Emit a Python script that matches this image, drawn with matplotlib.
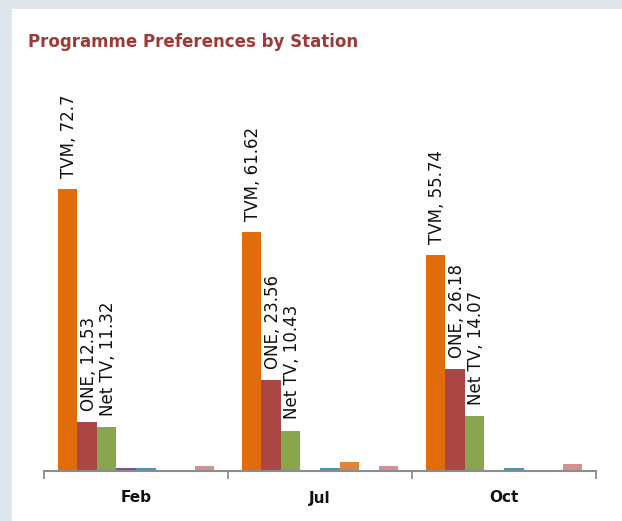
import matplotlib
matplotlib.use("Agg")
import matplotlib.pyplot as plt
from matplotlib.patches import Rectangle
import numpy as np

months = ["Feb", "Jul", "Oct"]
series_names = ["TVM", "ONE", "Net TV", "Series 4", "Series 5", "Series 6", "Series 7", "Series 8"]
tvm = [72.7, 61.62, 55.74]
one = [12.53, 23.56, 26.18]
net_tv = [11.32, 10.43, 14.07]
series4 = [0.7, 0.0, 0.0]
series5 = [0.7, 0.7, 0.8]
series6 = [0.0, 2.2, 0.0]
series7 = [0.0, 0.0, 0.0]
series8 = [1.2, 1.2, 1.8]
labelled = ["TVM", "ONE", "Net TV"]

all_series = [tvm, one, net_tv, series4, series5, series6, series7, series8]
colors = ["#E36C0A", "#AA4643", "#89A54E", "#71588F", "#4198AF", "#DB843D", "#93A9CF", "#D19392"]

W, H = 622, 521
fig = plt.figure(figsize=(W / 100, H / 100), dpi=100)
fig.patch.set_facecolor("#DFE6EB")
fig.patches.append(Rectangle((12 / W, 0), 1 - 12 / W, 1 - 9 / H, transform=fig.transFigure,
                             facecolor="white", edgecolor="none", zorder=-5))

ax = fig.add_axes([44 / W, 50 / H, 552 / W, 411 / H])
ax.set_facecolor("none")
ax.set_zorder(2)

x = np.arange(len(months))
bw = 0.106
n = len(all_series)
for i, (name, vals, c) in enumerate(zip(series_names, all_series, colors)):
    pos = x + (i - (n - 1) / 2) * bw
    ax.bar(pos, vals, width=bw, color=c, edgecolor="none", zorder=2)
    if name in labelled:
        for p, v in zip(pos, vals):
            ax.annotate(f"{name}, {v:g}", xy=(p, v), xytext=(1, 8), textcoords="offset points",
                        rotation=90, ha="center", va="bottom", fontsize=12,
                        family="DejaVu Sans", color="#111111")

ax.set_xlim(-0.5, len(months) - 0.5)
ax.set_ylim(0, 106)
ax.set_yticks([])
for s in ["left", "right", "top"]:
    ax.spines[s].set_visible(False)
ax.spines["bottom"].set_color("#8C8C8C")
ax.spines["bottom"].set_linewidth(1.5)

ax.set_xticks(np.arange(-0.5, len(months), 1.0))
ax.set_xticklabels([])
ax.tick_params(axis="x", direction="out", length=6, width=1.3, color="#8C8C8C")
for xi, m in zip(x, months):
    ax.annotate(m, xy=(xi, 0), xycoords=("data", "axes fraction"), xytext=(0, -27 * 0.72),
                textcoords="offset points", ha="center", va="center", fontsize=11,
                fontweight="bold", color="#111111")

fig.text(28 / W, 1 - 42 / H, "Programme Preferences by Station", ha="left", va="center",
         fontsize=12, fontweight="bold", color="#9B3B38")

fig.savefig("out.png", dpi=100)
